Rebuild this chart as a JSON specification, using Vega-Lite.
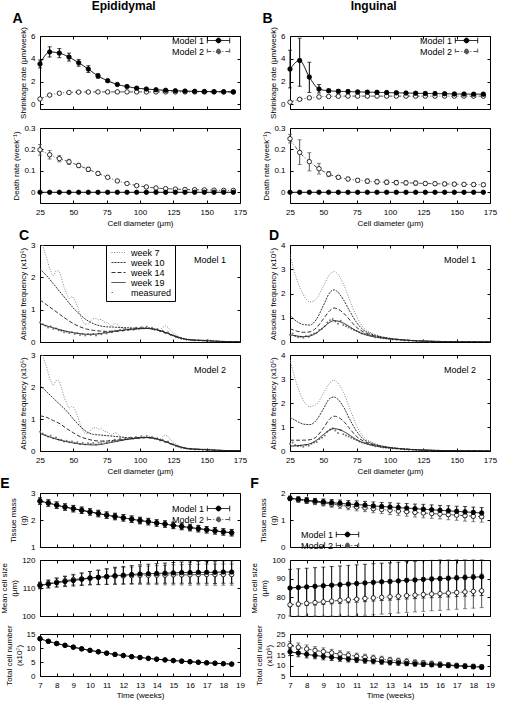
{
"$schema": "https://vega.github.io/schema/vega-lite/v6.json",
"background": "white",
"padding": {"left": 0, "top": 0, "right": 4, "bottom": 0},
"config": {
  "font": "Liberation Sans",
  "view": {"stroke": "black", "strokeWidth": 1},
  "axis": {"grid": false, "domain": false, "tickColor": "black", "tickSize": -3, "labelPadding": 8, "labelFontSize": 8, "titleFontSize": 8, "titleFontWeight": "normal", "labelColor": "black", "titleColor": "black", "labelFlush": false, "labelOverlap": false, "titlePadding": 3},
  "title": {"anchor": "start", "fontSize": 14, "fontWeight": "bold", "color": "black", "offset": 0},
  "legend": {"labelFontSize": 9, "labelColor": "black"}
},
"datasets": {
"As": [
{"m":"Model 2","x":25,"y":0.48,"l":0.38,"h":0.58},{"m":"Model 2","x":32.25,"y":0.82,"l":0.72,"h":0.92},{"m":"Model 2","x":39.5,"y":0.98,"l":0.9,"h":1.06},{"m":"Model 2","x":46.75,"y":1.05,"l":0.98,"h":1.12},{"m":"Model 2","x":54,"y":1.08,"l":1.01,"h":1.15},{"m":"Model 2","x":61.25,"y":1.09,"l":1.02,"h":1.16},{"m":"Model 2","x":68.5,"y":1.1,"l":1.03,"h":1.17},{"m":"Model 2","x":75.75,"y":1.1,"l":1.03,"h":1.17},{"m":"Model 2","x":83,"y":1.1,"l":1.03,"h":1.17},{"m":"Model 2","x":90.25,"y":1.1,"l":1.03,"h":1.17},{"m":"Model 2","x":97.5,"y":1.1,"l":1.03,"h":1.17},{"m":"Model 2","x":104.75,"y":1.1,"l":1.03,"h":1.17},{"m":"Model 2","x":112,"y":1.1,"l":1.03,"h":1.17},{"m":"Model 2","x":119.25,"y":1.1,"l":1.03,"h":1.17},{"m":"Model 2","x":126.5,"y":1.1,"l":1.03,"h":1.17},{"m":"Model 2","x":133.75,"y":1.1,"l":1.03,"h":1.17},{"m":"Model 2","x":141,"y":1.1,"l":1.03,"h":1.17},{"m":"Model 2","x":148.25,"y":1.1,"l":1.03,"h":1.17},{"m":"Model 2","x":155.5,"y":1.1,"l":1.03,"h":1.17},{"m":"Model 2","x":162.75,"y":1.1,"l":1.03,"h":1.17},{"m":"Model 2","x":170,"y":1.1,"l":1.03,"h":1.17},
{"m":"Model 1","x":25,"y":3.55,"l":3.2,"h":3.9},{"m":"Model 1","x":32.25,"y":4.6,"l":4.15,"h":5.05},{"m":"Model 1","x":39.5,"y":4.5,"l":4.1,"h":4.9},{"m":"Model 1","x":46.75,"y":4.15,"l":3.8,"h":4.5},{"m":"Model 1","x":54,"y":3.65,"l":3.35,"h":3.95},{"m":"Model 1","x":61.25,"y":3.1,"l":2.8,"h":3.4},{"m":"Model 1","x":68.5,"y":2.5,"l":2.3,"h":2.7},{"m":"Model 1","x":75.75,"y":2.08,"l":1.96,"h":2.2},{"m":"Model 1","x":83,"y":1.75,"l":1.67,"h":1.83},{"m":"Model 1","x":90.25,"y":1.57,"l":1.5,"h":1.64},{"m":"Model 1","x":97.5,"y":1.43,"l":1.36,"h":1.5},{"m":"Model 1","x":104.75,"y":1.35,"l":1.28,"h":1.42},{"m":"Model 1","x":112,"y":1.29,"l":1.22,"h":1.36},{"m":"Model 1","x":119.25,"y":1.24,"l":1.17,"h":1.31},{"m":"Model 1","x":126.5,"y":1.2,"l":1.13,"h":1.27},{"m":"Model 1","x":133.75,"y":1.17,"l":1.1,"h":1.24},{"m":"Model 1","x":141,"y":1.15,"l":1.08,"h":1.22},{"m":"Model 1","x":148.25,"y":1.13,"l":1.06,"h":1.2},{"m":"Model 1","x":155.5,"y":1.12,"l":1.05,"h":1.19},{"m":"Model 1","x":162.75,"y":1.11,"l":1.04,"h":1.18},{"m":"Model 1","x":170,"y":1.1,"l":1.03,"h":1.17}
],
"Ad": [
{"m":"Model 2","x":25,"y":0.198,"l":0.173,"h":0.223},{"m":"Model 2","x":32.25,"y":0.175,"l":0.155,"h":0.195},{"m":"Model 2","x":39.5,"y":0.157,"l":0.142,"h":0.172},{"m":"Model 2","x":46.75,"y":0.142,"l":0.13,"h":0.154},{"m":"Model 2","x":54,"y":0.125,"l":0.115,"h":0.135},{"m":"Model 2","x":61.25,"y":0.107,"l":0.097,"h":0.117},{"m":"Model 2","x":68.5,"y":0.088,"l":0.08,"h":0.096},{"m":"Model 2","x":75.75,"y":0.07,"l":0.065,"h":0.075},{"m":"Model 2","x":83,"y":0.053,"l":0.049,"h":0.057},{"m":"Model 2","x":90.25,"y":0.041,"l":0.037,"h":0.045},{"m":"Model 2","x":97.5,"y":0.031,"l":0.027,"h":0.035},{"m":"Model 2","x":104.75,"y":0.025,"l":0.022,"h":0.028},{"m":"Model 2","x":112,"y":0.02,"l":0.017,"h":0.023},{"m":"Model 2","x":119.25,"y":0.017,"l":0.014,"h":0.02},{"m":"Model 2","x":126.5,"y":0.015,"l":0.012,"h":0.018},{"m":"Model 2","x":133.75,"y":0.013,"l":0.01,"h":0.016},{"m":"Model 2","x":141,"y":0.012,"l":0.008,"h":0.016},{"m":"Model 2","x":148.25,"y":0.011,"l":0.007,"h":0.015},{"m":"Model 2","x":155.5,"y":0.01,"l":0.005,"h":0.015},{"m":"Model 2","x":162.75,"y":0.009,"l":0.004,"h":0.014},{"m":"Model 2","x":170,"y":0.009,"l":0.004,"h":0.014},
{"m":"Model 1","x":25,"y":0,"l":0,"h":0},{"m":"Model 1","x":32.25,"y":0,"l":0,"h":0},{"m":"Model 1","x":39.5,"y":0,"l":0,"h":0},{"m":"Model 1","x":46.75,"y":0,"l":0,"h":0},{"m":"Model 1","x":54,"y":0,"l":0,"h":0},{"m":"Model 1","x":61.25,"y":0,"l":0,"h":0},{"m":"Model 1","x":68.5,"y":0,"l":0,"h":0},{"m":"Model 1","x":75.75,"y":0,"l":0,"h":0},{"m":"Model 1","x":83,"y":0,"l":0,"h":0},{"m":"Model 1","x":90.25,"y":0,"l":0,"h":0},{"m":"Model 1","x":97.5,"y":0,"l":0,"h":0},{"m":"Model 1","x":104.75,"y":0,"l":0,"h":0},{"m":"Model 1","x":112,"y":0,"l":0,"h":0},{"m":"Model 1","x":119.25,"y":0,"l":0,"h":0},{"m":"Model 1","x":126.5,"y":0,"l":0,"h":0},{"m":"Model 1","x":133.75,"y":0,"l":0,"h":0},{"m":"Model 1","x":141,"y":0,"l":0,"h":0},{"m":"Model 1","x":148.25,"y":0,"l":0,"h":0},{"m":"Model 1","x":155.5,"y":0,"l":0,"h":0},{"m":"Model 1","x":162.75,"y":0,"l":0,"h":0},{"m":"Model 1","x":170,"y":0,"l":0,"h":0}
],
"Bs": [
{"m":"Model 2","x":25,"y":0.2,"l":0.12,"h":0.28},{"m":"Model 2","x":32.25,"y":0.45,"l":0.37,"h":0.53},{"m":"Model 2","x":39.5,"y":0.58,"l":0.5,"h":0.66},{"m":"Model 2","x":46.75,"y":0.66,"l":0.58,"h":0.74},{"m":"Model 2","x":54,"y":0.7,"l":0.62,"h":0.78},{"m":"Model 2","x":61.25,"y":0.72,"l":0.64,"h":0.8},{"m":"Model 2","x":68.5,"y":0.73,"l":0.65,"h":0.81},{"m":"Model 2","x":75.75,"y":0.73,"l":0.65,"h":0.81},{"m":"Model 2","x":83,"y":0.73,"l":0.65,"h":0.81},{"m":"Model 2","x":90.25,"y":0.73,"l":0.65,"h":0.81},{"m":"Model 2","x":97.5,"y":0.73,"l":0.65,"h":0.81},{"m":"Model 2","x":104.75,"y":0.73,"l":0.65,"h":0.81},{"m":"Model 2","x":112,"y":0.73,"l":0.65,"h":0.81},{"m":"Model 2","x":119.25,"y":0.73,"l":0.65,"h":0.81},{"m":"Model 2","x":126.5,"y":0.73,"l":0.65,"h":0.81},{"m":"Model 2","x":133.75,"y":0.73,"l":0.65,"h":0.81},{"m":"Model 2","x":141,"y":0.73,"l":0.65,"h":0.81},{"m":"Model 2","x":148.25,"y":0.73,"l":0.65,"h":0.81},{"m":"Model 2","x":155.5,"y":0.73,"l":0.65,"h":0.81},{"m":"Model 2","x":162.75,"y":0.73,"l":0.65,"h":0.81},{"m":"Model 2","x":170,"y":0.73,"l":0.65,"h":0.81},
{"m":"Model 1","x":25,"y":3.1,"l":1.45,"h":4.75},{"m":"Model 1","x":32.25,"y":3.85,"l":1.6,"h":5.8},{"m":"Model 1","x":39.5,"y":2.4,"l":1.05,"h":3.7},{"m":"Model 1","x":46.75,"y":1.35,"l":1.0,"h":1.75},{"m":"Model 1","x":54,"y":1.2,"l":1.05,"h":1.35},{"m":"Model 1","x":61.25,"y":1.15,"l":1.0,"h":1.3},{"m":"Model 1","x":68.5,"y":1.13,"l":1.0,"h":1.26},{"m":"Model 1","x":75.75,"y":1.1,"l":0.98,"h":1.22},{"m":"Model 1","x":83,"y":1.08,"l":0.96,"h":1.2},{"m":"Model 1","x":90.25,"y":1.06,"l":0.94,"h":1.18},{"m":"Model 1","x":97.5,"y":1.04,"l":0.92,"h":1.16},{"m":"Model 1","x":104.75,"y":1.02,"l":0.9,"h":1.14},{"m":"Model 1","x":112,"y":1.0,"l":0.88,"h":1.12},{"m":"Model 1","x":119.25,"y":0.98,"l":0.86,"h":1.1},{"m":"Model 1","x":126.5,"y":0.96,"l":0.84,"h":1.08},{"m":"Model 1","x":133.75,"y":0.95,"l":0.83,"h":1.07},{"m":"Model 1","x":141,"y":0.94,"l":0.82,"h":1.06},{"m":"Model 1","x":148.25,"y":0.92,"l":0.8,"h":1.04},{"m":"Model 1","x":155.5,"y":0.91,"l":0.79,"h":1.03},{"m":"Model 1","x":162.75,"y":0.9,"l":0.78,"h":1.02},{"m":"Model 1","x":170,"y":0.9,"l":0.78,"h":1.02}
],
"Bd": [
{"m":"Model 2","x":25,"y":0.25,"l":0.23,"h":0.27},{"m":"Model 2","x":32.25,"y":0.186,"l":0.13,"h":0.245},{"m":"Model 2","x":39.5,"y":0.143,"l":0.1,"h":0.185},{"m":"Model 2","x":46.75,"y":0.11,"l":0.085,"h":0.135},{"m":"Model 2","x":54,"y":0.085,"l":0.073,"h":0.097},{"m":"Model 2","x":61.25,"y":0.07,"l":0.062,"h":0.078},{"m":"Model 2","x":68.5,"y":0.062,"l":0.054,"h":0.07},{"m":"Model 2","x":75.75,"y":0.056,"l":0.048,"h":0.064},{"m":"Model 2","x":83,"y":0.052,"l":0.042,"h":0.062},{"m":"Model 2","x":90.25,"y":0.049,"l":0.039,"h":0.059},{"m":"Model 2","x":97.5,"y":0.047,"l":0.037,"h":0.057},{"m":"Model 2","x":104.75,"y":0.045,"l":0.035,"h":0.055},{"m":"Model 2","x":112,"y":0.044,"l":0.034,"h":0.054},{"m":"Model 2","x":119.25,"y":0.043,"l":0.033,"h":0.053},{"m":"Model 2","x":126.5,"y":0.041,"l":0.033,"h":0.049},{"m":"Model 2","x":133.75,"y":0.04,"l":0.032,"h":0.048},{"m":"Model 2","x":141,"y":0.039,"l":0.031,"h":0.047},{"m":"Model 2","x":148.25,"y":0.038,"l":0.03,"h":0.046},{"m":"Model 2","x":155.5,"y":0.037,"l":0.029,"h":0.045},{"m":"Model 2","x":162.75,"y":0.036,"l":0.028,"h":0.044},{"m":"Model 2","x":170,"y":0.035,"l":0.027,"h":0.043},
{"m":"Model 1","x":25,"y":0,"l":0,"h":0},{"m":"Model 1","x":32.25,"y":0,"l":0,"h":0},{"m":"Model 1","x":39.5,"y":0,"l":0,"h":0},{"m":"Model 1","x":46.75,"y":0,"l":0,"h":0},{"m":"Model 1","x":54,"y":0,"l":0,"h":0},{"m":"Model 1","x":61.25,"y":0,"l":0,"h":0},{"m":"Model 1","x":68.5,"y":0,"l":0,"h":0},{"m":"Model 1","x":75.75,"y":0,"l":0,"h":0},{"m":"Model 1","x":83,"y":0,"l":0,"h":0},{"m":"Model 1","x":90.25,"y":0,"l":0,"h":0},{"m":"Model 1","x":97.5,"y":0,"l":0,"h":0},{"m":"Model 1","x":104.75,"y":0,"l":0,"h":0},{"m":"Model 1","x":112,"y":0,"l":0,"h":0},{"m":"Model 1","x":119.25,"y":0,"l":0,"h":0},{"m":"Model 1","x":126.5,"y":0,"l":0,"h":0},{"m":"Model 1","x":133.75,"y":0,"l":0,"h":0},{"m":"Model 1","x":141,"y":0,"l":0,"h":0},{"m":"Model 1","x":148.25,"y":0,"l":0,"h":0},{"m":"Model 1","x":155.5,"y":0,"l":0,"h":0},{"m":"Model 1","x":162.75,"y":0,"l":0,"h":0},{"m":"Model 1","x":170,"y":0,"l":0,"h":0}
],
"C1": [
{"s":"week 7","x":25,"y":3.3},{"s":"week 7","x":27,"y":3.0},{"s":"week 7","x":30,"y":2.6},{"s":"week 7","x":33,"y":2.2},{"s":"week 7","x":35,"y":2.05},{"s":"week 7","x":37,"y":2.2},{"s":"week 7","x":39,"y":2.2},{"s":"week 7","x":41,"y":2.0},{"s":"week 7","x":43,"y":1.7},{"s":"week 7","x":45,"y":1.5},{"s":"week 7","x":47,"y":1.35},{"s":"week 7","x":49,"y":1.4},{"s":"week 7","x":51,"y":1.3},{"s":"week 7","x":53,"y":1.1},{"s":"week 7","x":55,"y":0.85},{"s":"week 7","x":57,"y":0.65},{"s":"week 7","x":59,"y":0.55},{"s":"week 7","x":61,"y":0.55},{"s":"week 7","x":63,"y":0.65},{"s":"week 7","x":65,"y":0.72},{"s":"week 7","x":67,"y":0.73},{"s":"week 7","x":69,"y":0.68},{"s":"week 7","x":71,"y":0.7},{"s":"week 7","x":73,"y":0.62},{"s":"week 7","x":75,"y":0.6},{"s":"week 7","x":77,"y":0.55},{"s":"week 7","x":79,"y":0.5},{"s":"week 7","x":81,"y":0.57},{"s":"week 7","x":83,"y":0.55},{"s":"week 7","x":85,"y":0.47},{"s":"week 7","x":87,"y":0.42},{"s":"week 7","x":90,"y":0.4},{"s":"week 7","x":93,"y":0.38},{"s":"week 7","x":96,"y":0.4},{"s":"week 7","x":99,"y":0.42},{"s":"week 7","x":102,"y":0.46},{"s":"week 7","x":105,"y":0.42},{"s":"week 7","x":108,"y":0.4},{"s":"week 7","x":111,"y":0.42},{"s":"week 7","x":114,"y":0.35},{"s":"week 7","x":117,"y":0.45},{"s":"week 7","x":119,"y":0.5},{"s":"week 7","x":121,"y":0.45},{"s":"week 7","x":123,"y":0.35},{"s":"week 7","x":126,"y":0.25},{"s":"week 7","x":130,"y":0.15},{"s":"week 7","x":135,"y":0.1},{"s":"week 7","x":140,"y":0.07},{"s":"week 7","x":145,"y":0.06},{"s":"week 7","x":150,"y":0.07},{"s":"week 7","x":155,"y":0.04},{"s":"week 7","x":160,"y":0.02},{"s":"week 7","x":165,"y":0.01},{"s":"week 7","x":175,"y":0.01},
{"s":"week 10","x":25,"y":2.25},{"s":"week 10","x":30,"y":2.05},{"s":"week 10","x":35,"y":1.8},{"s":"week 10","x":40,"y":1.55},{"s":"week 10","x":45,"y":1.3},{"s":"week 10","x":50,"y":1.05},{"s":"week 10","x":55,"y":0.85},{"s":"week 10","x":60,"y":0.68},{"s":"week 10","x":65,"y":0.57},{"s":"week 10","x":70,"y":0.5},{"s":"week 10","x":75,"y":0.47},{"s":"week 10","x":80,"y":0.46},{"s":"week 10","x":85,"y":0.45},{"s":"week 10","x":90,"y":0.44},{"s":"week 10","x":95,"y":0.43},{"s":"week 10","x":100,"y":0.43},{"s":"week 10","x":105,"y":0.43},{"s":"week 10","x":110,"y":0.4},{"s":"week 10","x":115,"y":0.35},{"s":"week 10","x":120,"y":0.28},{"s":"week 10","x":125,"y":0.2},{"s":"week 10","x":130,"y":0.13},{"s":"week 10","x":135,"y":0.08},{"s":"week 10","x":140,"y":0.06},{"s":"week 10","x":145,"y":0.05},{"s":"week 10","x":150,"y":0.04},{"s":"week 10","x":160,"y":0.02},{"s":"week 10","x":175,"y":0.01},
{"s":"week 14","x":25,"y":1.3},{"s":"week 14","x":30,"y":1.15},{"s":"week 14","x":35,"y":1.0},{"s":"week 14","x":40,"y":0.85},{"s":"week 14","x":45,"y":0.7},{"s":"week 14","x":50,"y":0.57},{"s":"week 14","x":55,"y":0.47},{"s":"week 14","x":60,"y":0.4},{"s":"week 14","x":65,"y":0.36},{"s":"week 14","x":70,"y":0.34},{"s":"week 14","x":75,"y":0.33},{"s":"week 14","x":80,"y":0.34},{"s":"week 14","x":85,"y":0.35},{"s":"week 14","x":90,"y":0.37},{"s":"week 14","x":95,"y":0.39},{"s":"week 14","x":100,"y":0.41},{"s":"week 14","x":105,"y":0.42},{"s":"week 14","x":110,"y":0.4},{"s":"week 14","x":115,"y":0.35},{"s":"week 14","x":120,"y":0.28},{"s":"week 14","x":125,"y":0.2},{"s":"week 14","x":130,"y":0.13},{"s":"week 14","x":135,"y":0.08},{"s":"week 14","x":140,"y":0.06},{"s":"week 14","x":145,"y":0.05},{"s":"week 14","x":150,"y":0.04},{"s":"week 14","x":160,"y":0.02},{"s":"week 14","x":175,"y":0.01},
{"s":"week 19","x":25,"y":0.57},{"s":"week 19","x":30,"y":0.5},{"s":"week 19","x":35,"y":0.44},{"s":"week 19","x":40,"y":0.38},{"s":"week 19","x":45,"y":0.33},{"s":"week 19","x":50,"y":0.29},{"s":"week 19","x":55,"y":0.26},{"s":"week 19","x":60,"y":0.24},{"s":"week 19","x":65,"y":0.24},{"s":"week 19","x":70,"y":0.26},{"s":"week 19","x":75,"y":0.29},{"s":"week 19","x":80,"y":0.32},{"s":"week 19","x":85,"y":0.35},{"s":"week 19","x":90,"y":0.38},{"s":"week 19","x":95,"y":0.4},{"s":"week 19","x":100,"y":0.42},{"s":"week 19","x":105,"y":0.42},{"s":"week 19","x":110,"y":0.4},{"s":"week 19","x":115,"y":0.35},{"s":"week 19","x":120,"y":0.28},{"s":"week 19","x":125,"y":0.2},{"s":"week 19","x":130,"y":0.13},{"s":"week 19","x":135,"y":0.08},{"s":"week 19","x":140,"y":0.06},{"s":"week 19","x":145,"y":0.05},{"s":"week 19","x":150,"y":0.04},{"s":"week 19","x":160,"y":0.02},{"s":"week 19","x":175,"y":0.01}
],
"C2": [
{"s":"week 7","x":25,"y":3.3},{"s":"week 7","x":27,"y":3.0},{"s":"week 7","x":30,"y":2.6},{"s":"week 7","x":33,"y":2.2},{"s":"week 7","x":35,"y":2.05},{"s":"week 7","x":37,"y":2.2},{"s":"week 7","x":39,"y":2.2},{"s":"week 7","x":41,"y":2.0},{"s":"week 7","x":43,"y":1.7},{"s":"week 7","x":45,"y":1.5},{"s":"week 7","x":47,"y":1.35},{"s":"week 7","x":49,"y":1.4},{"s":"week 7","x":51,"y":1.3},{"s":"week 7","x":53,"y":1.1},{"s":"week 7","x":55,"y":0.85},{"s":"week 7","x":57,"y":0.65},{"s":"week 7","x":59,"y":0.55},{"s":"week 7","x":61,"y":0.55},{"s":"week 7","x":63,"y":0.65},{"s":"week 7","x":65,"y":0.72},{"s":"week 7","x":67,"y":0.73},{"s":"week 7","x":69,"y":0.68},{"s":"week 7","x":71,"y":0.7},{"s":"week 7","x":73,"y":0.62},{"s":"week 7","x":75,"y":0.6},{"s":"week 7","x":77,"y":0.55},{"s":"week 7","x":79,"y":0.5},{"s":"week 7","x":81,"y":0.57},{"s":"week 7","x":83,"y":0.55},{"s":"week 7","x":85,"y":0.47},{"s":"week 7","x":87,"y":0.42},{"s":"week 7","x":90,"y":0.4},{"s":"week 7","x":93,"y":0.38},{"s":"week 7","x":96,"y":0.4},{"s":"week 7","x":99,"y":0.42},{"s":"week 7","x":102,"y":0.46},{"s":"week 7","x":105,"y":0.42},{"s":"week 7","x":108,"y":0.4},{"s":"week 7","x":111,"y":0.42},{"s":"week 7","x":114,"y":0.35},{"s":"week 7","x":117,"y":0.45},{"s":"week 7","x":119,"y":0.5},{"s":"week 7","x":121,"y":0.45},{"s":"week 7","x":123,"y":0.35},{"s":"week 7","x":126,"y":0.25},{"s":"week 7","x":130,"y":0.15},{"s":"week 7","x":135,"y":0.1},{"s":"week 7","x":140,"y":0.07},{"s":"week 7","x":145,"y":0.06},{"s":"week 7","x":150,"y":0.07},{"s":"week 7","x":155,"y":0.04},{"s":"week 7","x":160,"y":0.02},{"s":"week 7","x":165,"y":0.01},{"s":"week 7","x":175,"y":0.01},
{"s":"week 10","x":25,"y":2.05},{"s":"week 10","x":30,"y":1.85},{"s":"week 10","x":35,"y":1.65},{"s":"week 10","x":40,"y":1.45},{"s":"week 10","x":45,"y":1.25},{"s":"week 10","x":50,"y":1.0},{"s":"week 10","x":55,"y":0.78},{"s":"week 10","x":60,"y":0.6},{"s":"week 10","x":65,"y":0.52},{"s":"week 10","x":70,"y":0.5},{"s":"week 10","x":75,"y":0.48},{"s":"week 10","x":80,"y":0.46},{"s":"week 10","x":85,"y":0.44},{"s":"week 10","x":90,"y":0.42},{"s":"week 10","x":95,"y":0.41},{"s":"week 10","x":100,"y":0.42},{"s":"week 10","x":105,"y":0.42},{"s":"week 10","x":110,"y":0.4},{"s":"week 10","x":115,"y":0.35},{"s":"week 10","x":120,"y":0.28},{"s":"week 10","x":125,"y":0.2},{"s":"week 10","x":130,"y":0.13},{"s":"week 10","x":135,"y":0.08},{"s":"week 10","x":140,"y":0.06},{"s":"week 10","x":145,"y":0.05},{"s":"week 10","x":150,"y":0.04},{"s":"week 10","x":160,"y":0.02},{"s":"week 10","x":175,"y":0.01},
{"s":"week 14","x":25,"y":1.1},{"s":"week 14","x":30,"y":1.05},{"s":"week 14","x":35,"y":0.95},{"s":"week 14","x":40,"y":0.85},{"s":"week 14","x":45,"y":0.7},{"s":"week 14","x":50,"y":0.57},{"s":"week 14","x":55,"y":0.45},{"s":"week 14","x":60,"y":0.38},{"s":"week 14","x":65,"y":0.33},{"s":"week 14","x":70,"y":0.31},{"s":"week 14","x":75,"y":0.31},{"s":"week 14","x":80,"y":0.33},{"s":"week 14","x":85,"y":0.35},{"s":"week 14","x":90,"y":0.37},{"s":"week 14","x":95,"y":0.39},{"s":"week 14","x":100,"y":0.41},{"s":"week 14","x":105,"y":0.42},{"s":"week 14","x":110,"y":0.4},{"s":"week 14","x":115,"y":0.35},{"s":"week 14","x":120,"y":0.28},{"s":"week 14","x":125,"y":0.2},{"s":"week 14","x":130,"y":0.13},{"s":"week 14","x":135,"y":0.08},{"s":"week 14","x":140,"y":0.06},{"s":"week 14","x":145,"y":0.05},{"s":"week 14","x":150,"y":0.04},{"s":"week 14","x":160,"y":0.02},{"s":"week 14","x":175,"y":0.01},
{"s":"week 19","x":25,"y":0.55},{"s":"week 19","x":30,"y":0.47},{"s":"week 19","x":35,"y":0.4},{"s":"week 19","x":40,"y":0.34},{"s":"week 19","x":45,"y":0.29},{"s":"week 19","x":50,"y":0.25},{"s":"week 19","x":55,"y":0.22},{"s":"week 19","x":60,"y":0.2},{"s":"week 19","x":65,"y":0.19},{"s":"week 19","x":70,"y":0.2},{"s":"week 19","x":75,"y":0.24},{"s":"week 19","x":80,"y":0.28},{"s":"week 19","x":85,"y":0.32},{"s":"week 19","x":90,"y":0.36},{"s":"week 19","x":95,"y":0.39},{"s":"week 19","x":100,"y":0.41},{"s":"week 19","x":105,"y":0.42},{"s":"week 19","x":110,"y":0.4},{"s":"week 19","x":115,"y":0.35},{"s":"week 19","x":120,"y":0.28},{"s":"week 19","x":125,"y":0.2},{"s":"week 19","x":130,"y":0.13},{"s":"week 19","x":135,"y":0.08},{"s":"week 19","x":140,"y":0.06},{"s":"week 19","x":145,"y":0.05},{"s":"week 19","x":150,"y":0.04},{"s":"week 19","x":160,"y":0.02},{"s":"week 19","x":175,"y":0.01}
],
"D1": [
{"s":"week 7","x":25,"y":3.6},{"s":"week 7","x":30,"y":2.6},{"s":"week 7","x":35,"y":1.95},{"s":"week 7","x":40,"y":1.65},{"s":"week 7","x":45,"y":1.8},{"s":"week 7","x":50,"y":2.3},{"s":"week 7","x":55,"y":2.8},{"s":"week 7","x":58,"y":2.9},{"s":"week 7","x":60,"y":2.85},{"s":"week 7","x":65,"y":2.4},{"s":"week 7","x":70,"y":1.7},{"s":"week 7","x":75,"y":1.05},{"s":"week 7","x":80,"y":0.6},{"s":"week 7","x":85,"y":0.4},{"s":"week 7","x":90,"y":0.28},{"s":"week 7","x":100,"y":0.15},{"s":"week 7","x":110,"y":0.09},{"s":"week 7","x":120,"y":0.05},{"s":"week 7","x":130,"y":0.03},{"s":"week 7","x":140,"y":0.02},{"s":"week 7","x":150,"y":0.015},{"s":"week 7","x":175,"y":0.005},
{"s":"week 10","x":25,"y":1.1},{"s":"week 10","x":30,"y":0.85},{"s":"week 10","x":35,"y":0.72},{"s":"week 10","x":40,"y":0.7},{"s":"week 10","x":45,"y":0.95},{"s":"week 10","x":50,"y":1.5},{"s":"week 10","x":55,"y":2.05},{"s":"week 10","x":58,"y":2.15},{"s":"week 10","x":60,"y":2.1},{"s":"week 10","x":65,"y":1.75},{"s":"week 10","x":70,"y":1.25},{"s":"week 10","x":75,"y":0.8},{"s":"week 10","x":80,"y":0.5},{"s":"week 10","x":85,"y":0.35},{"s":"week 10","x":90,"y":0.26},{"s":"week 10","x":100,"y":0.15},{"s":"week 10","x":110,"y":0.09},{"s":"week 10","x":120,"y":0.05},{"s":"week 10","x":130,"y":0.03},{"s":"week 10","x":140,"y":0.02},{"s":"week 10","x":150,"y":0.015},{"s":"week 10","x":175,"y":0.005},
{"s":"week 14","x":25,"y":0.55},{"s":"week 14","x":30,"y":0.45},{"s":"week 14","x":35,"y":0.4},{"s":"week 14","x":40,"y":0.42},{"s":"week 14","x":45,"y":0.6},{"s":"week 14","x":50,"y":0.95},{"s":"week 14","x":55,"y":1.3},{"s":"week 14","x":58,"y":1.4},{"s":"week 14","x":60,"y":1.38},{"s":"week 14","x":65,"y":1.2},{"s":"week 14","x":70,"y":0.9},{"s":"week 14","x":75,"y":0.6},{"s":"week 14","x":80,"y":0.42},{"s":"week 14","x":85,"y":0.3},{"s":"week 14","x":90,"y":0.23},{"s":"week 14","x":100,"y":0.14},{"s":"week 14","x":110,"y":0.09},{"s":"week 14","x":120,"y":0.05},{"s":"week 14","x":130,"y":0.03},{"s":"week 14","x":140,"y":0.02},{"s":"week 14","x":150,"y":0.015},{"s":"week 14","x":175,"y":0.005},
{"s":"week 19","x":25,"y":0.3},{"s":"week 19","x":30,"y":0.25},{"s":"week 19","x":35,"y":0.22},{"s":"week 19","x":40,"y":0.25},{"s":"week 19","x":45,"y":0.38},{"s":"week 19","x":50,"y":0.6},{"s":"week 19","x":55,"y":0.82},{"s":"week 19","x":58,"y":0.88},{"s":"week 19","x":60,"y":0.87},{"s":"week 19","x":65,"y":0.78},{"s":"week 19","x":70,"y":0.62},{"s":"week 19","x":75,"y":0.45},{"s":"week 19","x":80,"y":0.33},{"s":"week 19","x":85,"y":0.25},{"s":"week 19","x":90,"y":0.2},{"s":"week 19","x":100,"y":0.13},{"s":"week 19","x":110,"y":0.08},{"s":"week 19","x":120,"y":0.05},{"s":"week 19","x":130,"y":0.03},{"s":"week 19","x":140,"y":0.02},{"s":"week 19","x":150,"y":0.015},{"s":"week 19","x":175,"y":0.005}
],
"D2": [
{"s":"week 7","x":25,"y":3.8},{"s":"week 7","x":30,"y":2.8},{"s":"week 7","x":35,"y":2.1},{"s":"week 7","x":40,"y":1.85},{"s":"week 7","x":45,"y":1.95},{"s":"week 7","x":50,"y":2.4},{"s":"week 7","x":55,"y":2.85},{"s":"week 7","x":58,"y":2.95},{"s":"week 7","x":60,"y":2.9},{"s":"week 7","x":65,"y":2.45},{"s":"week 7","x":70,"y":1.75},{"s":"week 7","x":75,"y":1.05},{"s":"week 7","x":80,"y":0.6},{"s":"week 7","x":85,"y":0.4},{"s":"week 7","x":90,"y":0.28},{"s":"week 7","x":100,"y":0.15},{"s":"week 7","x":110,"y":0.09},{"s":"week 7","x":120,"y":0.05},{"s":"week 7","x":130,"y":0.03},{"s":"week 7","x":140,"y":0.02},{"s":"week 7","x":150,"y":0.015},{"s":"week 7","x":175,"y":0.005},
{"s":"week 10","x":25,"y":1.4},{"s":"week 10","x":30,"y":1.25},{"s":"week 10","x":35,"y":1.12},{"s":"week 10","x":40,"y":1.1},{"s":"week 10","x":45,"y":1.3},{"s":"week 10","x":50,"y":1.75},{"s":"week 10","x":55,"y":2.2},{"s":"week 10","x":58,"y":2.25},{"s":"week 10","x":60,"y":2.2},{"s":"week 10","x":65,"y":1.85},{"s":"week 10","x":70,"y":1.3},{"s":"week 10","x":75,"y":0.82},{"s":"week 10","x":80,"y":0.5},{"s":"week 10","x":85,"y":0.35},{"s":"week 10","x":90,"y":0.26},{"s":"week 10","x":100,"y":0.15},{"s":"week 10","x":110,"y":0.09},{"s":"week 10","x":120,"y":0.05},{"s":"week 10","x":130,"y":0.03},{"s":"week 10","x":140,"y":0.02},{"s":"week 10","x":150,"y":0.015},{"s":"week 10","x":175,"y":0.005},
{"s":"week 14","x":25,"y":0.45},{"s":"week 14","x":30,"y":0.45},{"s":"week 14","x":35,"y":0.45},{"s":"week 14","x":40,"y":0.47},{"s":"week 14","x":45,"y":0.6},{"s":"week 14","x":50,"y":0.95},{"s":"week 14","x":55,"y":1.35},{"s":"week 14","x":58,"y":1.45},{"s":"week 14","x":60,"y":1.43},{"s":"week 14","x":65,"y":1.25},{"s":"week 14","x":70,"y":0.92},{"s":"week 14","x":75,"y":0.6},{"s":"week 14","x":80,"y":0.42},{"s":"week 14","x":85,"y":0.3},{"s":"week 14","x":90,"y":0.23},{"s":"week 14","x":100,"y":0.14},{"s":"week 14","x":110,"y":0.09},{"s":"week 14","x":120,"y":0.05},{"s":"week 14","x":130,"y":0.03},{"s":"week 14","x":140,"y":0.02},{"s":"week 14","x":150,"y":0.015},{"s":"week 14","x":175,"y":0.005},
{"s":"week 19","x":25,"y":0.2},{"s":"week 19","x":30,"y":0.22},{"s":"week 19","x":35,"y":0.25},{"s":"week 19","x":40,"y":0.3},{"s":"week 19","x":45,"y":0.45},{"s":"week 19","x":50,"y":0.68},{"s":"week 19","x":55,"y":0.88},{"s":"week 19","x":58,"y":0.93},{"s":"week 19","x":60,"y":0.92},{"s":"week 19","x":65,"y":0.82},{"s":"week 19","x":70,"y":0.65},{"s":"week 19","x":75,"y":0.47},{"s":"week 19","x":80,"y":0.34},{"s":"week 19","x":85,"y":0.26},{"s":"week 19","x":90,"y":0.2},{"s":"week 19","x":100,"y":0.13},{"s":"week 19","x":110,"y":0.08},{"s":"week 19","x":120,"y":0.05},{"s":"week 19","x":130,"y":0.03},{"s":"week 19","x":140,"y":0.02},{"s":"week 19","x":150,"y":0.015},{"s":"week 19","x":175,"y":0.005}
],
"MC": [
{"x":25,"y":0.6},{"x":27,"y":0.55},{"x":29,"y":0.5},{"x":31,"y":0.45},{"x":33,"y":0.48},{"x":35,"y":0.4},{"x":37,"y":0.42},{"x":39,"y":0.36},{"x":41,"y":0.35},{"x":43,"y":0.3},{"x":45,"y":0.32},{"x":47,"y":0.28},{"x":49,"y":0.3},{"x":51,"y":0.25},{"x":53,"y":0.27},{"x":55,"y":0.22},{"x":57,"y":0.25},{"x":59,"y":0.2},{"x":61,"y":0.24},{"x":63,"y":0.22},{"x":65,"y":0.25},{"x":67,"y":0.2},{"x":69,"y":0.26},{"x":71,"y":0.24},{"x":73,"y":0.3},{"x":75,"y":0.26},{"x":77,"y":0.32},{"x":79,"y":0.3},{"x":81,"y":0.35},{"x":83,"y":0.33},{"x":85,"y":0.38},{"x":87,"y":0.35},{"x":89,"y":0.4},{"x":91,"y":0.37},{"x":93,"y":0.42},{"x":95,"y":0.38},{"x":97,"y":0.44},{"x":99,"y":0.4},{"x":101,"y":0.46},{"x":103,"y":0.42},{"x":105,"y":0.47},{"x":107,"y":0.43},{"x":109,"y":0.44},{"x":111,"y":0.38},{"x":113,"y":0.4},{"x":115,"y":0.33},{"x":117,"y":0.35},{"x":119,"y":0.27},{"x":121,"y":0.3},{"x":123,"y":0.22},{"x":125,"y":0.2},{"x":127,"y":0.15},{"x":129,"y":0.13},{"x":131,"y":0.1},{"x":133,"y":0.09},{"x":135,"y":0.07},{"x":138,"y":0.06},{"x":141,"y":0.05},{"x":144,"y":0.05},{"x":147,"y":0.04},{"x":150,"y":0.03}
],
"MD": [
{"x":25,"y":0.3},{"x":27,"y":0.35},{"x":29,"y":0.25},{"x":31,"y":0.2},{"x":33,"y":0.22},{"x":35,"y":0.18},{"x":37,"y":0.25},{"x":39,"y":0.22},{"x":41,"y":0.3},{"x":43,"y":0.35},{"x":45,"y":0.38},{"x":47,"y":0.5},{"x":49,"y":0.55},{"x":51,"y":0.65},{"x":53,"y":0.8},{"x":55,"y":0.9},{"x":57,"y":0.95},{"x":59,"y":0.85},{"x":61,"y":0.75},{"x":63,"y":0.88},{"x":65,"y":0.7},{"x":67,"y":0.65},{"x":69,"y":0.6},{"x":71,"y":0.55},{"x":73,"y":0.5},{"x":75,"y":0.45},{"x":77,"y":0.4},{"x":79,"y":0.35},{"x":81,"y":0.33},{"x":83,"y":0.3},{"x":85,"y":0.27},{"x":87,"y":0.24},{"x":89,"y":0.2},{"x":91,"y":0.2},{"x":93,"y":0.17},{"x":95,"y":0.15},{"x":97,"y":0.14},{"x":99,"y":0.12},{"x":102,"y":0.1},{"x":105,"y":0.09},{"x":108,"y":0.08},{"x":111,"y":0.06},{"x":114,"y":0.05},{"x":117,"y":0.05},{"x":120,"y":0.04},{"x":125,"y":0.03},{"x":130,"y":0.02}
],
"Em": [
{"m":"Model 2","x":7,"y":2.7,"l":2.58,"h":2.82},{"m":"Model 2","x":7.5,"y":2.63,"l":2.51,"h":2.75},{"m":"Model 2","x":8,"y":2.55,"l":2.43,"h":2.67},{"m":"Model 2","x":8.5,"y":2.48,"l":2.36,"h":2.6},{"m":"Model 2","x":9,"y":2.42,"l":2.3,"h":2.54},{"m":"Model 2","x":9.5,"y":2.36,"l":2.24,"h":2.48},{"m":"Model 2","x":10,"y":2.3,"l":2.18,"h":2.42},{"m":"Model 2","x":10.5,"y":2.24,"l":2.12,"h":2.36},{"m":"Model 2","x":11,"y":2.18,"l":2.06,"h":2.3},{"m":"Model 2","x":11.5,"y":2.13,"l":2.01,"h":2.25},{"m":"Model 2","x":12,"y":2.08,"l":1.96,"h":2.2},{"m":"Model 2","x":12.5,"y":2.03,"l":1.91,"h":2.15},{"m":"Model 2","x":13,"y":1.98,"l":1.86,"h":2.1},{"m":"Model 2","x":13.5,"y":1.94,"l":1.82,"h":2.06},{"m":"Model 2","x":14,"y":1.89,"l":1.77,"h":2.01},{"m":"Model 2","x":14.5,"y":1.85,"l":1.73,"h":1.97},{"m":"Model 2","x":15,"y":1.8,"l":1.68,"h":1.92},{"m":"Model 2","x":15.5,"y":1.76,"l":1.64,"h":1.88},{"m":"Model 2","x":16,"y":1.72,"l":1.6,"h":1.84},{"m":"Model 2","x":16.5,"y":1.68,"l":1.56,"h":1.8},{"m":"Model 2","x":17,"y":1.64,"l":1.52,"h":1.76},{"m":"Model 2","x":17.5,"y":1.6,"l":1.48,"h":1.72},{"m":"Model 2","x":18,"y":1.56,"l":1.44,"h":1.68},{"m":"Model 2","x":18.5,"y":1.53,"l":1.41,"h":1.65},
{"m":"Model 1","x":7,"y":2.7,"l":2.58,"h":2.82},{"m":"Model 1","x":7.5,"y":2.63,"l":2.51,"h":2.75},{"m":"Model 1","x":8,"y":2.55,"l":2.43,"h":2.67},{"m":"Model 1","x":8.5,"y":2.48,"l":2.36,"h":2.6},{"m":"Model 1","x":9,"y":2.42,"l":2.3,"h":2.54},{"m":"Model 1","x":9.5,"y":2.36,"l":2.24,"h":2.48},{"m":"Model 1","x":10,"y":2.3,"l":2.18,"h":2.42},{"m":"Model 1","x":10.5,"y":2.24,"l":2.12,"h":2.36},{"m":"Model 1","x":11,"y":2.18,"l":2.06,"h":2.3},{"m":"Model 1","x":11.5,"y":2.13,"l":2.01,"h":2.25},{"m":"Model 1","x":12,"y":2.08,"l":1.96,"h":2.2},{"m":"Model 1","x":12.5,"y":2.03,"l":1.91,"h":2.15},{"m":"Model 1","x":13,"y":1.98,"l":1.86,"h":2.1},{"m":"Model 1","x":13.5,"y":1.94,"l":1.82,"h":2.06},{"m":"Model 1","x":14,"y":1.89,"l":1.77,"h":2.01},{"m":"Model 1","x":14.5,"y":1.85,"l":1.73,"h":1.97},{"m":"Model 1","x":15,"y":1.8,"l":1.68,"h":1.92},{"m":"Model 1","x":15.5,"y":1.76,"l":1.64,"h":1.88},{"m":"Model 1","x":16,"y":1.72,"l":1.6,"h":1.84},{"m":"Model 1","x":16.5,"y":1.68,"l":1.56,"h":1.8},{"m":"Model 1","x":17,"y":1.64,"l":1.52,"h":1.76},{"m":"Model 1","x":17.5,"y":1.6,"l":1.48,"h":1.72},{"m":"Model 1","x":18,"y":1.56,"l":1.44,"h":1.68},{"m":"Model 1","x":18.5,"y":1.53,"l":1.41,"h":1.65}
],
"Es": [
{"m":"Model 2","x":7,"y":111.0,"l":110.0,"h":112.0},{"m":"Model 2","x":7.5,"y":111.6,"l":110.3,"h":112.9},{"m":"Model 2","x":8,"y":112.1,"l":110.6,"h":113.6},{"m":"Model 2","x":8.5,"y":112.6,"l":110.9,"h":114.3},{"m":"Model 2","x":9,"y":113.0,"l":111.1,"h":114.9},{"m":"Model 2","x":9.5,"y":113.3,"l":111.2,"h":115.4},{"m":"Model 2","x":10,"y":113.6,"l":111.3,"h":115.9},{"m":"Model 2","x":10.5,"y":113.8,"l":111.3,"h":116.3},{"m":"Model 2","x":11,"y":114.0,"l":111.3,"h":116.7},{"m":"Model 2","x":11.5,"y":114.2,"l":111.3,"h":117.1},{"m":"Model 2","x":12,"y":114.3,"l":111.3,"h":117.3},{"m":"Model 2","x":12.5,"y":114.4,"l":111.3,"h":117.5},{"m":"Model 2","x":13,"y":114.5,"l":111.3,"h":117.7},{"m":"Model 2","x":13.5,"y":114.5,"l":111.2,"h":117.8},{"m":"Model 2","x":14,"y":114.6,"l":111.2,"h":118.0},{"m":"Model 2","x":14.5,"y":114.6,"l":111.1,"h":118.1},{"m":"Model 2","x":15,"y":114.7,"l":111.1,"h":118.3},{"m":"Model 2","x":15.5,"y":114.7,"l":111.1,"h":118.3},{"m":"Model 2","x":16,"y":114.7,"l":111.0,"h":118.4},{"m":"Model 2","x":16.5,"y":114.8,"l":111.1,"h":118.5},{"m":"Model 2","x":17,"y":114.8,"l":111.0,"h":118.6},{"m":"Model 2","x":17.5,"y":114.8,"l":111.0,"h":118.6},{"m":"Model 2","x":18,"y":114.8,"l":111.0,"h":118.6},{"m":"Model 2","x":18.5,"y":114.8,"l":111.0,"h":118.6},
{"m":"Model 1","x":7,"y":110.9,"l":109.7,"h":112.1},{"m":"Model 1","x":7.5,"y":111.4,"l":110.0,"h":112.8},{"m":"Model 1","x":8,"y":111.9,"l":110.3,"h":113.5},{"m":"Model 1","x":8.5,"y":112.3,"l":110.5,"h":114.1},{"m":"Model 1","x":9,"y":112.7,"l":110.7,"h":114.7},{"m":"Model 1","x":9.5,"y":113.1,"l":110.9,"h":115.3},{"m":"Model 1","x":10,"y":113.5,"l":111.1,"h":115.9},{"m":"Model 1","x":10.5,"y":113.8,"l":111.2,"h":116.4},{"m":"Model 1","x":11,"y":114.1,"l":111.3,"h":116.9},{"m":"Model 1","x":11.5,"y":114.4,"l":111.4,"h":117.4},{"m":"Model 1","x":12,"y":114.6,"l":111.5,"h":117.7},{"m":"Model 1","x":12.5,"y":114.8,"l":111.6,"h":118.0},{"m":"Model 1","x":13,"y":115.0,"l":111.7,"h":118.3},{"m":"Model 1","x":13.5,"y":115.1,"l":111.7,"h":118.5},{"m":"Model 1","x":14,"y":115.2,"l":111.7,"h":118.7},{"m":"Model 1","x":14.5,"y":115.3,"l":111.7,"h":118.9},{"m":"Model 1","x":15,"y":115.4,"l":111.7,"h":119.1},{"m":"Model 1","x":15.5,"y":115.5,"l":111.7,"h":119.3},{"m":"Model 1","x":16,"y":115.5,"l":111.7,"h":119.3},{"m":"Model 1","x":16.5,"y":115.6,"l":111.7,"h":119.5},{"m":"Model 1","x":17,"y":115.6,"l":111.7,"h":119.5},{"m":"Model 1","x":17.5,"y":115.6,"l":111.6,"h":119.6},{"m":"Model 1","x":18,"y":115.7,"l":111.7,"h":119.7},{"m":"Model 1","x":18.5,"y":115.7,"l":111.7,"h":119.7}
],
"En": [
{"m":"Model 2","x":7,"y":13.3,"l":12.7,"h":13.9},{"m":"Model 2","x":7.5,"y":12.4,"l":11.85,"h":12.95},{"m":"Model 2","x":8,"y":11.6,"l":11.1,"h":12.1},{"m":"Model 2","x":8.5,"y":10.95,"l":10.5,"h":11.4},{"m":"Model 2","x":9,"y":10.3,"l":9.85,"h":10.75},{"m":"Model 2","x":9.5,"y":9.7,"l":9.3,"h":10.1},{"m":"Model 2","x":10,"y":9.15,"l":8.75,"h":9.55},{"m":"Model 2","x":10.5,"y":8.65,"l":8.25,"h":9.05},{"m":"Model 2","x":11,"y":8.15,"l":7.8,"h":8.5},{"m":"Model 2","x":11.5,"y":7.7,"l":7.35,"h":8.05},{"m":"Model 2","x":12,"y":7.3,"l":6.95,"h":7.65},{"m":"Model 2","x":12.5,"y":6.9,"l":6.55,"h":7.25},{"m":"Model 2","x":13,"y":6.6,"l":6.25,"h":6.95},{"m":"Model 2","x":13.5,"y":6.3,"l":6.0,"h":6.6},{"m":"Model 2","x":14,"y":6.0,"l":5.7,"h":6.3},{"m":"Model 2","x":14.5,"y":5.75,"l":5.45,"h":6.05},{"m":"Model 2","x":15,"y":5.5,"l":5.2,"h":5.8},{"m":"Model 2","x":15.5,"y":5.3,"l":5.0,"h":5.6},{"m":"Model 2","x":16,"y":5.1,"l":4.8,"h":5.4},{"m":"Model 2","x":16.5,"y":4.9,"l":4.6,"h":5.2},{"m":"Model 2","x":17,"y":4.7,"l":4.4,"h":5.0},{"m":"Model 2","x":17.5,"y":4.55,"l":4.25,"h":4.85},{"m":"Model 2","x":18,"y":4.4,"l":4.1,"h":4.7},{"m":"Model 2","x":18.5,"y":4.25,"l":3.95,"h":4.55},
{"m":"Model 1","x":7,"y":13.3,"l":12.7,"h":13.9},{"m":"Model 1","x":7.5,"y":12.4,"l":11.85,"h":12.95},{"m":"Model 1","x":8,"y":11.6,"l":11.1,"h":12.1},{"m":"Model 1","x":8.5,"y":10.95,"l":10.5,"h":11.4},{"m":"Model 1","x":9,"y":10.3,"l":9.85,"h":10.75},{"m":"Model 1","x":9.5,"y":9.7,"l":9.3,"h":10.1},{"m":"Model 1","x":10,"y":9.15,"l":8.75,"h":9.55},{"m":"Model 1","x":10.5,"y":8.65,"l":8.25,"h":9.05},{"m":"Model 1","x":11,"y":8.15,"l":7.8,"h":8.5},{"m":"Model 1","x":11.5,"y":7.7,"l":7.35,"h":8.05},{"m":"Model 1","x":12,"y":7.3,"l":6.95,"h":7.65},{"m":"Model 1","x":12.5,"y":6.9,"l":6.55,"h":7.25},{"m":"Model 1","x":13,"y":6.6,"l":6.25,"h":6.95},{"m":"Model 1","x":13.5,"y":6.3,"l":6.0,"h":6.6},{"m":"Model 1","x":14,"y":6.0,"l":5.7,"h":6.3},{"m":"Model 1","x":14.5,"y":5.75,"l":5.45,"h":6.05},{"m":"Model 1","x":15,"y":5.5,"l":5.2,"h":5.8},{"m":"Model 1","x":15.5,"y":5.3,"l":5.0,"h":5.6},{"m":"Model 1","x":16,"y":5.1,"l":4.8,"h":5.4},{"m":"Model 1","x":16.5,"y":4.9,"l":4.6,"h":5.2},{"m":"Model 1","x":17,"y":4.7,"l":4.4,"h":5.0},{"m":"Model 1","x":17.5,"y":4.55,"l":4.25,"h":4.85},{"m":"Model 1","x":18,"y":4.4,"l":4.1,"h":4.7},{"m":"Model 1","x":18.5,"y":4.25,"l":3.95,"h":4.55}
],
"Fm": [
{"m":"Model 2","x":7,"y":1.8,"l":1.72,"h":1.88},{"m":"Model 2","x":7.5,"y":1.75,"l":1.66,"h":1.84},{"m":"Model 2","x":8,"y":1.71,"l":1.61,"h":1.81},{"m":"Model 2","x":8.5,"y":1.67,"l":1.57,"h":1.77},{"m":"Model 2","x":9,"y":1.63,"l":1.52,"h":1.74},{"m":"Model 2","x":9.5,"y":1.59,"l":1.47,"h":1.71},{"m":"Model 2","x":10,"y":1.55,"l":1.43,"h":1.67},{"m":"Model 2","x":10.5,"y":1.51,"l":1.38,"h":1.64},{"m":"Model 2","x":11,"y":1.48,"l":1.34,"h":1.62},{"m":"Model 2","x":11.5,"y":1.45,"l":1.31,"h":1.59},{"m":"Model 2","x":12,"y":1.42,"l":1.27,"h":1.57},{"m":"Model 2","x":12.5,"y":1.39,"l":1.24,"h":1.54},{"m":"Model 2","x":13,"y":1.36,"l":1.2,"h":1.52},{"m":"Model 2","x":13.5,"y":1.33,"l":1.17,"h":1.49},{"m":"Model 2","x":14,"y":1.31,"l":1.14,"h":1.48},{"m":"Model 2","x":14.5,"y":1.28,"l":1.11,"h":1.45},{"m":"Model 2","x":15,"y":1.26,"l":1.08,"h":1.44},{"m":"Model 2","x":15.5,"y":1.24,"l":1.06,"h":1.42},{"m":"Model 2","x":16,"y":1.22,"l":1.04,"h":1.4},{"m":"Model 2","x":16.5,"y":1.2,"l":1.01,"h":1.39},{"m":"Model 2","x":17,"y":1.18,"l":0.99,"h":1.37},{"m":"Model 2","x":17.5,"y":1.16,"l":0.96,"h":1.36},{"m":"Model 2","x":18,"y":1.14,"l":0.94,"h":1.34},{"m":"Model 2","x":18.5,"y":1.12,"l":0.92,"h":1.32},
{"m":"Model 1","x":7,"y":1.8,"l":1.72,"h":1.88},{"m":"Model 1","x":7.5,"y":1.77,"l":1.68,"h":1.86},{"m":"Model 1","x":8,"y":1.73,"l":1.63,"h":1.83},{"m":"Model 1","x":8.5,"y":1.7,"l":1.6,"h":1.8},{"m":"Model 1","x":9,"y":1.67,"l":1.56,"h":1.78},{"m":"Model 1","x":9.5,"y":1.64,"l":1.52,"h":1.76},{"m":"Model 1","x":10,"y":1.62,"l":1.5,"h":1.74},{"m":"Model 1","x":10.5,"y":1.59,"l":1.46,"h":1.72},{"m":"Model 1","x":11,"y":1.57,"l":1.43,"h":1.71},{"m":"Model 1","x":11.5,"y":1.55,"l":1.41,"h":1.69},{"m":"Model 1","x":12,"y":1.52,"l":1.37,"h":1.67},{"m":"Model 1","x":12.5,"y":1.5,"l":1.35,"h":1.65},{"m":"Model 1","x":13,"y":1.48,"l":1.32,"h":1.64},{"m":"Model 1","x":13.5,"y":1.46,"l":1.3,"h":1.62},{"m":"Model 1","x":14,"y":1.44,"l":1.27,"h":1.61},{"m":"Model 1","x":14.5,"y":1.42,"l":1.25,"h":1.59},{"m":"Model 1","x":15,"y":1.4,"l":1.22,"h":1.58},{"m":"Model 1","x":15.5,"y":1.38,"l":1.2,"h":1.56},{"m":"Model 1","x":16,"y":1.36,"l":1.18,"h":1.54},{"m":"Model 1","x":16.5,"y":1.34,"l":1.15,"h":1.53},{"m":"Model 1","x":17,"y":1.32,"l":1.13,"h":1.51},{"m":"Model 1","x":17.5,"y":1.3,"l":1.1,"h":1.5},{"m":"Model 1","x":18,"y":1.28,"l":1.08,"h":1.48},{"m":"Model 1","x":18.5,"y":1.26,"l":1.06,"h":1.46}
],
"Fs": [
{"m":"Model 2","x":7,"y":76.0,"l":67.0,"h":85.0},{"m":"Model 2","x":7.5,"y":76.4,"l":67.4,"h":85.4},{"m":"Model 2","x":8,"y":76.8,"l":67.8,"h":85.8},{"m":"Model 2","x":8.5,"y":77.2,"l":68.2,"h":86.2},{"m":"Model 2","x":9,"y":77.6,"l":68.6,"h":86.6},{"m":"Model 2","x":9.5,"y":78.0,"l":69.0,"h":87.0},{"m":"Model 2","x":10,"y":78.4,"l":69.4,"h":87.4},{"m":"Model 2","x":10.5,"y":78.7,"l":69.7,"h":87.7},{"m":"Model 2","x":11,"y":79.0,"l":70.0,"h":88.0},{"m":"Model 2","x":11.5,"y":79.4,"l":70.4,"h":88.4},{"m":"Model 2","x":12,"y":79.7,"l":70.7,"h":88.7},{"m":"Model 2","x":12.5,"y":80.0,"l":71.0,"h":89.0},{"m":"Model 2","x":13,"y":80.3,"l":71.3,"h":89.3},{"m":"Model 2","x":13.5,"y":80.6,"l":71.6,"h":89.6},{"m":"Model 2","x":14,"y":80.9,"l":71.9,"h":89.9},{"m":"Model 2","x":14.5,"y":81.2,"l":72.2,"h":90.2},{"m":"Model 2","x":15,"y":81.5,"l":72.5,"h":90.5},{"m":"Model 2","x":15.5,"y":81.8,"l":72.8,"h":90.8},{"m":"Model 2","x":16,"y":82.0,"l":73.0,"h":91.0},{"m":"Model 2","x":16.5,"y":82.3,"l":73.3,"h":91.3},{"m":"Model 2","x":17,"y":82.6,"l":73.6,"h":91.6},{"m":"Model 2","x":17.5,"y":82.9,"l":73.9,"h":91.9},{"m":"Model 2","x":18,"y":83.2,"l":74.2,"h":92.2},{"m":"Model 2","x":18.5,"y":83.5,"l":74.5,"h":92.5},
{"m":"Model 1","x":7,"y":85.0,"l":75.0,"h":95.0},{"m":"Model 1","x":7.5,"y":85.3,"l":75.3,"h":95.3},{"m":"Model 1","x":8,"y":85.6,"l":75.6,"h":95.6},{"m":"Model 1","x":8.5,"y":85.9,"l":75.9,"h":95.9},{"m":"Model 1","x":9,"y":86.2,"l":76.2,"h":96.2},{"m":"Model 1","x":9.5,"y":86.5,"l":76.5,"h":96.5},{"m":"Model 1","x":10,"y":86.8,"l":76.8,"h":96.8},{"m":"Model 1","x":10.5,"y":87.1,"l":77.1,"h":97.1},{"m":"Model 1","x":11,"y":87.4,"l":77.4,"h":97.4},{"m":"Model 1","x":11.5,"y":87.7,"l":77.7,"h":97.7},{"m":"Model 1","x":12,"y":88.0,"l":78.0,"h":98.0},{"m":"Model 1","x":12.5,"y":88.3,"l":78.3,"h":98.3},{"m":"Model 1","x":13,"y":88.5,"l":78.5,"h":98.5},{"m":"Model 1","x":13.5,"y":88.8,"l":78.8,"h":98.8},{"m":"Model 1","x":14,"y":89.1,"l":79.1,"h":99.1},{"m":"Model 1","x":14.5,"y":89.3,"l":79.3,"h":99.3},{"m":"Model 1","x":15,"y":89.6,"l":79.6,"h":99.6},{"m":"Model 1","x":15.5,"y":89.8,"l":79.8,"h":99.8},{"m":"Model 1","x":16,"y":90.0,"l":80.0,"h":100.0},{"m":"Model 1","x":16.5,"y":90.2,"l":80.2,"h":100.2},{"m":"Model 1","x":17,"y":90.4,"l":80.4,"h":100.4},{"m":"Model 1","x":17.5,"y":90.6,"l":80.6,"h":100.6},{"m":"Model 1","x":18,"y":90.8,"l":80.8,"h":100.8},{"m":"Model 1","x":18.5,"y":91.0,"l":81.0,"h":101.0}
],
"Fn": [
{"m":"Model 2","x":7,"y":19.5,"l":17.5,"h":21.5},{"m":"Model 2","x":7.5,"y":18.7,"l":16.7,"h":20.7},{"m":"Model 2","x":8,"y":17.9,"l":16.0,"h":19.8},{"m":"Model 2","x":8.5,"y":17.2,"l":15.4,"h":19.0},{"m":"Model 2","x":9,"y":16.6,"l":14.8,"h":18.4},{"m":"Model 2","x":9.5,"y":16.0,"l":14.3,"h":17.7},{"m":"Model 2","x":10,"y":15.4,"l":13.8,"h":17.0},{"m":"Model 2","x":10.5,"y":14.9,"l":13.3,"h":16.5},{"m":"Model 2","x":11,"y":14.4,"l":12.9,"h":15.9},{"m":"Model 2","x":11.5,"y":13.9,"l":12.4,"h":15.4},{"m":"Model 2","x":12,"y":13.5,"l":12.1,"h":14.9},{"m":"Model 2","x":12.5,"y":13.0,"l":11.6,"h":14.4},{"m":"Model 2","x":13,"y":12.6,"l":11.3,"h":13.9},{"m":"Model 2","x":13.5,"y":12.2,"l":10.9,"h":13.5},{"m":"Model 2","x":14,"y":11.9,"l":10.6,"h":13.2},{"m":"Model 2","x":14.5,"y":11.5,"l":10.3,"h":12.7},{"m":"Model 2","x":15,"y":11.2,"l":10.0,"h":12.4},{"m":"Model 2","x":15.5,"y":10.9,"l":9.7,"h":12.1},{"m":"Model 2","x":16,"y":10.6,"l":9.5,"h":11.7},{"m":"Model 2","x":16.5,"y":10.3,"l":9.2,"h":11.4},{"m":"Model 2","x":17,"y":10.0,"l":8.9,"h":11.1},{"m":"Model 2","x":17.5,"y":9.8,"l":8.8,"h":10.8},{"m":"Model 2","x":18,"y":9.6,"l":8.6,"h":10.6},{"m":"Model 2","x":18.5,"y":9.4,"l":8.4,"h":10.4},
{"m":"Model 1","x":7,"y":16.5,"l":14.7,"h":18.3},{"m":"Model 1","x":7.5,"y":15.9,"l":14.2,"h":17.6},{"m":"Model 1","x":8,"y":15.3,"l":13.6,"h":17.0},{"m":"Model 1","x":8.5,"y":14.8,"l":13.2,"h":16.4},{"m":"Model 1","x":9,"y":14.3,"l":12.7,"h":15.9},{"m":"Model 1","x":9.5,"y":13.9,"l":12.4,"h":15.4},{"m":"Model 1","x":10,"y":13.5,"l":12.0,"h":15.0},{"m":"Model 1","x":10.5,"y":13.1,"l":11.7,"h":14.5},{"m":"Model 1","x":11,"y":12.8,"l":11.4,"h":14.2},{"m":"Model 1","x":11.5,"y":12.4,"l":11.1,"h":13.7},{"m":"Model 1","x":12,"y":12.1,"l":10.8,"h":13.4},{"m":"Model 1","x":12.5,"y":11.8,"l":10.6,"h":13.0},{"m":"Model 1","x":13,"y":11.5,"l":10.3,"h":12.7},{"m":"Model 1","x":13.5,"y":11.3,"l":10.1,"h":12.5},{"m":"Model 1","x":14,"y":11.0,"l":9.9,"h":12.1},{"m":"Model 1","x":14.5,"y":10.8,"l":9.7,"h":11.9},{"m":"Model 1","x":15,"y":10.6,"l":9.5,"h":11.7},{"m":"Model 1","x":15.5,"y":10.4,"l":9.4,"h":11.4},{"m":"Model 1","x":16,"y":10.2,"l":9.2,"h":11.2},{"m":"Model 1","x":16.5,"y":10.0,"l":9.0,"h":11.0},{"m":"Model 1","x":17,"y":9.8,"l":8.9,"h":10.7},{"m":"Model 1","x":17.5,"y":9.6,"l":8.7,"h":10.5},{"m":"Model 1","x":18,"y":9.4,"l":8.5,"h":10.3},{"m":"Model 1","x":18.5,"y":9.2,"l":8.3,"h":10.1}
]
},
"resolve": {"scale": {"color": "independent", "fill": "independent", "strokeDash": "independent", "strokeWidth": "independent"}},
"spacing": 2,
"hconcat": [
{
 "title": {"text": "Epididymal", "anchor": "middle", "fontSize": 12, "offset": -1},
 "resolve": {"scale": {"color": "independent", "fill": "independent", "strokeDash": "independent", "strokeWidth": "independent"}},
 "spacing": 0,
 "vconcat": [
  {
   "title": {"text": "A", "offset": 0},
   "resolve": {"scale": {"color": "independent", "fill": "independent", "strokeDash": "independent"}},
   "spacing": 4,
   "vconcat": [
    {
     "width": 200, "height": 73,
     "data": {"name": "As"},
     "resolve": {"axis": {"x": "independent", "y": "independent"}},
     "layer": [
      {"mark": {"type": "line", "interpolate": "monotone", "strokeWidth": 1},
       "encoding": {
        "x": {"field": "x", "type": "quantitative", "scale": {"domain": [25, 175]}, "axis": {"values": [25,50,75,100,125,150,175], "labels": false, "title": null}},
        "y": {"field": "y", "type": "quantitative", "scale": {"domain": [-0.4, 6], "nice": false}, "axis": {"values": [0,2,4,6], "labelExpr": "'' + datum.value", "title": "Shrinkage rate (μm/week)"}},
        "color": {"field": "m", "type": "nominal", "scale": {"domain": ["Model 1","Model 2"], "range": ["black","#555"]},
          "legend": {"title": null, "orient": "none", "legendX": 174, "legendY": 0, "symbolType": "M-2.8,0H2.8M-2.8,-0.7V0.7M2.8,-0.7V0.7M0.6,0A0.6,0.6,0,1,1,-0.6,0A0.6,0.6,0,1,1,0.6,0Z", "symbolSize": 64, "symbolStrokeWidth": 1, "labelAlign": "right", "labelOffset": -19, "padding": 0, "rowPadding": 0, "encode": {"symbols": {"update": {"fill": {"signal": "datum.value === 'Model 1' ? 'black' : 'white'"}, "stroke": {"value": "black"}, "strokeDash": {"value": [1, 0]}}}}}},
        "strokeDash": {"field": "m", "type": "nominal", "scale": {"domain": ["Model 1","Model 2"], "range": [[1,0],[4,2,1,2]]}, "legend": null}}},
      {"mark": {"type": "errorbar", "ticks": {"size": 4}},
       "encoding": {
        "x": {"field": "x", "type": "quantitative", "scale": {"domain": [25, 175]}, "axis": null},
        "y": {"field": "l", "type": "quantitative", "scale": {"domain": [-0.4, 6], "nice": false}, "axis": null}, "y2": {"field": "h"}, "color": {"field": "m", "type": "nominal", "legend": null}}},
      {"mark": {"type": "point", "shape": "circle", "filled": true, "size": 20, "stroke": "black", "strokeWidth": 0.8, "opacity": 1},
       "encoding": {
        "x": {"field": "x", "type": "quantitative", "scale": {"domain": [25, 175]}, "axis": {"orient": "top", "values": [25,50,75,100,125,150,175], "labels": false, "title": null}},
        "y": {"field": "y", "type": "quantitative", "scale": {"domain": [-0.4, 6], "nice": false}, "axis": {"orient": "right", "values": [0,2,4,6], "labels": false, "title": null}},
        "fill": {"field": "m", "type": "nominal", "scale": {"domain": ["Model 1","Model 2"], "range": ["black","white"]}, "legend": null}}}
     ]
    },
    {
     "width": 200, "height": 75,
     "data": {"name": "Ad"},
     "resolve": {"axis": {"x": "independent", "y": "independent"}},
     "layer": [
      {"mark": {"type": "line", "interpolate": "monotone", "strokeWidth": 1},
       "encoding": {
        "x": {"field": "x", "type": "quantitative", "scale": {"domain": [25, 175]}, "axis": {"values": [25,50,75,100,125,150,175], "title": "Cell diameter (μm)"}},
        "y": {"field": "y", "type": "quantitative", "scale": {"domain": [-0.05, 0.3], "nice": false}, "axis": {"values": [0,0.1,0.2,0.3], "labelExpr": "'' + datum.value", "title": "Death rate (week⁻¹)"}},
        "color": {"field": "m", "type": "nominal", "scale": {"domain": ["Model 1","Model 2"], "range": ["black","#555"]}, "legend": null},
        "strokeDash": {"field": "m", "type": "nominal", "scale": {"domain": ["Model 1","Model 2"], "range": [[1,0],[4,2,1,2]]}, "legend": null}}},
      {"mark": {"type": "errorbar", "ticks": {"size": 4}},
       "encoding": {
        "x": {"field": "x", "type": "quantitative", "scale": {"domain": [25, 175]}, "axis": null},
        "y": {"field": "l", "type": "quantitative", "scale": {"domain": [-0.05, 0.3], "nice": false}, "axis": null}, "y2": {"field": "h"}, "color": {"field": "m", "type": "nominal", "legend": null}}},
      {"mark": {"type": "point", "shape": "circle", "filled": true, "size": 20, "stroke": "black", "strokeWidth": 0.8, "opacity": 1},
       "encoding": {
        "x": {"field": "x", "type": "quantitative", "scale": {"domain": [25, 175]}, "axis": {"orient": "top", "values": [25,50,75,100,125,150,175], "labels": false, "title": null}},
        "y": {"field": "y", "type": "quantitative", "scale": {"domain": [-0.05, 0.3], "nice": false}, "axis": {"orient": "right", "values": [0,0.1,0.2,0.3], "labels": false, "title": null}},
        "fill": {"field": "m", "type": "nominal", "scale": {"domain": ["Model 1","Model 2"], "range": ["black","white"]}, "legend": null}}}
     ]
    }
   ]
  },
  {
   "title": {"text": "C", "offset": -2},
   "resolve": {"scale": {"color": "independent", "fill": "independent", "strokeDash": "independent", "strokeWidth": "independent"}},
   "spacing": 3,
   "vconcat": [
    {
     "width": 200, "height": 97,
     "title": {"text": "Model 1", "anchor": "end", "frame": "group", "offset": -24, "dx": -14, "fontSize": 9, "fontWeight": "normal"},
     "resolve": {"axis": {"x": "independent", "y": "independent"}},
     "layer": [
      {"data": {"name": "MC"}, "mark": {"type": "point", "shape": "circle", "filled": true, "size": 4, "color": "#777", "opacity": 1},
       "encoding": {
        "x": {"field": "x", "type": "quantitative", "scale": {"domain": [25, 175]}, "axis": {"orient": "top", "values": [25,50,75,100,125,150,175], "labels": false, "title": null}},
        "y": {"field": "y", "type": "quantitative", "scale": {"domain": [0, 3], "nice": false}, "axis": {"orient": "right", "values": [0,1,2,3], "labels": false, "title": null}}}},
      {"data": {"name": "C1"}, "mark": {"type": "line", "interpolate": "monotone", "clip": true},
       "encoding": {
        "x": {"field": "x", "type": "quantitative", "scale": {"domain": [25, 175]}, "axis": {"values": [25,50,75,100,125,150,175], "labels": false, "title": null}},
        "y": {"field": "y", "type": "quantitative", "scale": {"domain": [0, 3], "nice": false}, "axis": {"values": [0,1,2,3], "labelExpr": "'' + datum.value", "title": "Absolute frequency (x10⁵)"}},
        "color": {"field": "s", "type": "nominal", "scale": {"domain": ["week 7","week 10","week 14","week 19","measured"], "range": ["#888","#333","#333","#222","#777"]},
          "legend": {"title": null, "orient": "none", "legendX": 66, "legendY": 0, "symbolType": "M-1,0H6", "symbolSize": 16, "labelOffset": 13, "strokeColor": "black", "fillColor": "white", "padding": 3, "rowPadding": 0}},
        "strokeDash": {"field": "s", "type": "nominal", "scale": {"domain": ["week 7","week 10","week 14","week 19","measured"], "range": [[1,1.5],[2,1],[4,2],[1,0],[1.5,40]]},
          "legend": {"title": null, "orient": "none", "legendX": 66, "legendY": 0, "symbolType": "M-1,0H6", "symbolSize": 16, "labelOffset": 13, "strokeColor": "black", "fillColor": "white", "padding": 3, "rowPadding": 0}},
        "strokeWidth": {"field": "s", "type": "nominal", "scale": {"domain": ["week 7","week 10","week 14","week 19","measured"], "range": [1,1,1,1.5,1.5]}, "legend": null}}}
     ]
    },
    {
     "width": 200, "height": 96,
     "title": {"text": "Model 2", "anchor": "end", "frame": "group", "offset": -24, "dx": -14, "fontSize": 9, "fontWeight": "normal"},
     "resolve": {"axis": {"x": "independent", "y": "independent"}},
     "layer": [
      {"data": {"name": "MC"}, "mark": {"type": "point", "shape": "circle", "filled": true, "size": 4, "color": "#777", "opacity": 1},
       "encoding": {
        "x": {"field": "x", "type": "quantitative", "scale": {"domain": [25, 175]}, "axis": {"orient": "top", "values": [25,50,75,100,125,150,175], "labels": false, "title": null}},
        "y": {"field": "y", "type": "quantitative", "scale": {"domain": [0, 3], "nice": false}, "axis": {"orient": "right", "values": [0,1,2,3], "labels": false, "title": null}}}},
      {"data": {"name": "C2"}, "mark": {"type": "line", "interpolate": "monotone", "clip": true},
       "encoding": {
        "x": {"field": "x", "type": "quantitative", "scale": {"domain": [25, 175]}, "axis": {"values": [25,50,75,100,125,150,175], "title": "Cell diameter (μm)"}},
        "y": {"field": "y", "type": "quantitative", "scale": {"domain": [0, 3], "nice": false}, "axis": {"values": [0,1,2,3], "labelExpr": "'' + datum.value", "title": "Absolute frequency (x10⁵)"}},
        "color": {"field": "s", "type": "nominal", "scale": {"domain": ["week 7","week 10","week 14","week 19"], "range": ["#888","#333","#333","#222"]}, "legend": null},
        "strokeDash": {"field": "s", "type": "nominal", "scale": {"domain": ["week 7","week 10","week 14","week 19"], "range": [[1,1.5],[2,1],[4,2],[1,0]]}, "legend": null},
        "strokeWidth": {"field": "s", "type": "nominal", "scale": {"domain": ["week 7","week 10","week 14","week 19"], "range": [1,1,1,1.5]}, "legend": null}}}
     ]
    }
   ]
  },
  {
   "title": {"text": "E", "offset": -2},
   "resolve": {"scale": {"color": "independent", "fill": "independent", "strokeDash": "independent"}},
   "spacing": 3,
   "vconcat": [
    {
     "width": 200, "height": 54,
     "data": {"name": "Em"},
     "resolve": {"axis": {"x": "independent", "y": "independent"}},
     "layer": [
      {"mark": {"type": "line", "interpolate": "monotone", "strokeWidth": 1},
       "encoding": {
        "x": {"field": "x", "type": "quantitative", "scale": {"domain": [7, 19]}, "axis": {"values": [7,8,9,10,11,12,13,14,15,16,17,18,19], "labels": false, "title": null}},
        "y": {"field": "y", "type": "quantitative", "scale": {"domain": [1, 3], "nice": false}, "axis": {"values": [1,2,3], "labelExpr": "'' + datum.value", "title": ["Tissue mass", "(g)"]}},
        "color": {"field": "m", "type": "nominal", "scale": {"domain": ["Model 1","Model 2"], "range": ["black","#555"]},
          "legend": {"title": null, "orient": "none", "legendX": 174, "legendY": 11, "symbolType": "M-2.8,0H2.8M-2.8,-0.7V0.7M2.8,-0.7V0.7M0.6,0A0.6,0.6,0,1,1,-0.6,0A0.6,0.6,0,1,1,0.6,0Z", "symbolSize": 64, "symbolStrokeWidth": 1, "labelAlign": "right", "labelOffset": -19, "padding": 0, "rowPadding": 0, "encode": {"symbols": {"update": {"fill": {"signal": "datum.value === 'Model 1' ? 'black' : 'white'"}, "stroke": {"value": "black"}, "strokeDash": {"value": [1, 0]}}}}}},
        "strokeDash": {"field": "m", "type": "nominal", "scale": {"domain": ["Model 1","Model 2"], "range": [[1,0],[4,2,1,2]]}, "legend": null}}},
      {"mark": {"type": "errorbar", "ticks": {"size": 4}},
       "encoding": {
        "x": {"field": "x", "type": "quantitative", "scale": {"domain": [7, 19]}, "axis": null},
        "y": {"field": "l", "type": "quantitative", "scale": {"domain": [1, 3], "nice": false}, "axis": null}, "y2": {"field": "h"}, "color": {"field": "m", "type": "nominal", "legend": null}}},
      {"mark": {"type": "point", "shape": "circle", "filled": true, "size": 20, "stroke": "black", "strokeWidth": 0.8, "opacity": 1},
       "encoding": {
        "x": {"field": "x", "type": "quantitative", "scale": {"domain": [7, 19]}, "axis": {"orient": "top", "values": [7,8,9,10,11,12,13,14,15,16,17,18,19], "labels": false, "title": null}},
        "y": {"field": "y", "type": "quantitative", "scale": {"domain": [1, 3], "nice": false}, "axis": {"orient": "right", "values": [1,2,3], "labels": false, "title": null}},
        "fill": {"field": "m", "type": "nominal", "scale": {"domain": ["Model 1","Model 2"], "range": ["black","white"]}, "legend": null}}}
     ]
    },
    {
     "width": 200, "height": 56,
     "data": {"name": "Es"},
     "resolve": {"axis": {"x": "independent", "y": "independent"}},
     "layer": [
      {"mark": {"type": "line", "interpolate": "monotone", "strokeWidth": 1},
       "encoding": {
        "x": {"field": "x", "type": "quantitative", "scale": {"domain": [7, 19]}, "axis": {"values": [7,8,9,10,11,12,13,14,15,16,17,18,19], "labels": false, "title": null}},
        "y": {"field": "y", "type": "quantitative", "scale": {"domain": [100, 120], "nice": false}, "axis": {"values": [100,110,120], "labelExpr": "'' + datum.value", "title": ["Mean cell size", "(μm)"]}},
        "color": {"field": "m", "type": "nominal", "scale": {"domain": ["Model 1","Model 2"], "range": ["black","#555"]}, "legend": null},
        "strokeDash": {"field": "m", "type": "nominal", "scale": {"domain": ["Model 1","Model 2"], "range": [[1,0],[4,2,1,2]]}, "legend": null}}},
      {"mark": {"type": "errorbar", "ticks": {"size": 4}},
       "encoding": {
        "x": {"field": "x", "type": "quantitative", "scale": {"domain": [7, 19]}, "axis": null},
        "y": {"field": "l", "type": "quantitative", "scale": {"domain": [100, 120], "nice": false}, "axis": null}, "y2": {"field": "h"}, "color": {"field": "m", "type": "nominal", "legend": null}}},
      {"mark": {"type": "point", "shape": "circle", "filled": true, "size": 20, "stroke": "black", "strokeWidth": 0.8, "opacity": 1},
       "encoding": {
        "x": {"field": "x", "type": "quantitative", "scale": {"domain": [7, 19]}, "axis": {"orient": "top", "values": [7,8,9,10,11,12,13,14,15,16,17,18,19], "labels": false, "title": null}},
        "y": {"field": "y", "type": "quantitative", "scale": {"domain": [100, 120], "nice": false}, "axis": {"orient": "right", "values": [100,110,120], "labels": false, "title": null}},
        "fill": {"field": "m", "type": "nominal", "scale": {"domain": ["Model 1","Model 2"], "range": ["black","white"]}, "legend": null}}}
     ]
    },
    {
     "width": 200, "height": 42,
     "data": {"name": "En"},
     "resolve": {"axis": {"x": "independent", "y": "independent"}},
     "layer": [
      {"mark": {"type": "line", "interpolate": "monotone", "strokeWidth": 1},
       "encoding": {
        "x": {"field": "x", "type": "quantitative", "scale": {"domain": [7, 19]}, "axis": {"values": [7,8,9,10,11,12,13,14,15,16,17,18,19], "title": "Time (weeks)", "titlePadding": 2}},
        "y": {"field": "y", "type": "quantitative", "scale": {"domain": [0, 15], "nice": false}, "axis": {"values": [0,5,10,15], "labelExpr": "'' + datum.value", "title": ["Total cell number", "(x10⁷)"]}},
        "color": {"field": "m", "type": "nominal", "scale": {"domain": ["Model 1","Model 2"], "range": ["black","#555"]}, "legend": null},
        "strokeDash": {"field": "m", "type": "nominal", "scale": {"domain": ["Model 1","Model 2"], "range": [[1,0],[4,2,1,2]]}, "legend": null}}},
      {"mark": {"type": "errorbar", "ticks": {"size": 4}},
       "encoding": {
        "x": {"field": "x", "type": "quantitative", "scale": {"domain": [7, 19]}, "axis": null},
        "y": {"field": "l", "type": "quantitative", "scale": {"domain": [0, 15], "nice": false}, "axis": null}, "y2": {"field": "h"}, "color": {"field": "m", "type": "nominal", "legend": null}}},
      {"mark": {"type": "point", "shape": "circle", "filled": true, "size": 20, "stroke": "black", "strokeWidth": 0.8, "opacity": 1},
       "encoding": {
        "x": {"field": "x", "type": "quantitative", "scale": {"domain": [7, 19]}, "axis": {"orient": "top", "values": [7,8,9,10,11,12,13,14,15,16,17,18,19], "labels": false, "title": null}},
        "y": {"field": "y", "type": "quantitative", "scale": {"domain": [0, 15], "nice": false}, "axis": {"orient": "right", "values": [0,5,10,15], "labels": false, "title": null}},
        "fill": {"field": "m", "type": "nominal", "scale": {"domain": ["Model 1","Model 2"], "range": ["black","white"]}, "legend": null}}}
     ]
    }
   ]
  }
 ]
},
{
 "title": {"text": "Inguinal", "anchor": "middle", "fontSize": 12, "offset": -1},
 "resolve": {"scale": {"color": "independent", "fill": "independent", "strokeDash": "independent", "strokeWidth": "independent"}},
 "spacing": 0,
 "vconcat": [
  {
   "title": {"text": "B", "offset": 0},
   "resolve": {"scale": {"color": "independent", "fill": "independent", "strokeDash": "independent"}},
   "spacing": 4,
   "vconcat": [
    {
     "width": 200, "height": 73,
     "data": {"name": "Bs"},
     "resolve": {"axis": {"x": "independent", "y": "independent"}},
     "layer": [
      {"mark": {"type": "line", "interpolate": "monotone", "strokeWidth": 1},
       "encoding": {
        "x": {"field": "x", "type": "quantitative", "scale": {"domain": [25, 175]}, "axis": {"values": [25,50,75,100,125,150,175], "labels": false, "title": null}},
        "y": {"field": "y", "type": "quantitative", "scale": {"domain": [-0.4, 6], "nice": false}, "axis": {"values": [0,2,4,6], "labelExpr": "'' + datum.value", "title": "Shrinkage rate (μm/week)"}},
        "color": {"field": "m", "type": "nominal", "scale": {"domain": ["Model 1","Model 2"], "range": ["black","#555"]},
          "legend": {"title": null, "orient": "none", "legendX": 172, "legendY": 0, "symbolType": "M-2.8,0H2.8M-2.8,-0.7V0.7M2.8,-0.7V0.7M0.6,0A0.6,0.6,0,1,1,-0.6,0A0.6,0.6,0,1,1,0.6,0Z", "symbolSize": 64, "symbolStrokeWidth": 1, "labelAlign": "right", "labelOffset": -19, "padding": 0, "rowPadding": 0, "encode": {"symbols": {"update": {"fill": {"signal": "datum.value === 'Model 1' ? 'black' : 'white'"}, "stroke": {"value": "black"}, "strokeDash": {"value": [1, 0]}}}}}},
        "strokeDash": {"field": "m", "type": "nominal", "scale": {"domain": ["Model 1","Model 2"], "range": [[1,0],[4,2,1,2]]}, "legend": null}}},
      {"mark": {"type": "errorbar", "ticks": {"size": 4}},
       "encoding": {
        "x": {"field": "x", "type": "quantitative", "scale": {"domain": [25, 175]}, "axis": null},
        "y": {"field": "l", "type": "quantitative", "scale": {"domain": [-0.4, 6], "nice": false}, "axis": null}, "y2": {"field": "h"}, "color": {"field": "m", "type": "nominal", "legend": null}}},
      {"mark": {"type": "point", "shape": "circle", "filled": true, "size": 20, "stroke": "black", "strokeWidth": 0.8, "opacity": 1},
       "encoding": {
        "x": {"field": "x", "type": "quantitative", "scale": {"domain": [25, 175]}, "axis": {"orient": "top", "values": [25,50,75,100,125,150,175], "labels": false, "title": null}},
        "y": {"field": "y", "type": "quantitative", "scale": {"domain": [-0.4, 6], "nice": false}, "axis": {"orient": "right", "values": [0,2,4,6], "labels": false, "title": null}},
        "fill": {"field": "m", "type": "nominal", "scale": {"domain": ["Model 1","Model 2"], "range": ["black","white"]}, "legend": null}}}
     ]
    },
    {
     "width": 200, "height": 75,
     "data": {"name": "Bd"},
     "resolve": {"axis": {"x": "independent", "y": "independent"}},
     "layer": [
      {"mark": {"type": "line", "interpolate": "monotone", "strokeWidth": 1},
       "encoding": {
        "x": {"field": "x", "type": "quantitative", "scale": {"domain": [25, 175]}, "axis": {"values": [25,50,75,100,125,150,175], "title": "Cell diameter (μm)"}},
        "y": {"field": "y", "type": "quantitative", "scale": {"domain": [-0.05, 0.3], "nice": false}, "axis": {"values": [0,0.1,0.2,0.3], "labelExpr": "'' + datum.value", "title": "Death rate (week⁻¹)"}},
        "color": {"field": "m", "type": "nominal", "scale": {"domain": ["Model 1","Model 2"], "range": ["black","#555"]}, "legend": null},
        "strokeDash": {"field": "m", "type": "nominal", "scale": {"domain": ["Model 1","Model 2"], "range": [[1,0],[4,2,1,2]]}, "legend": null}}},
      {"mark": {"type": "errorbar", "ticks": {"size": 4}},
       "encoding": {
        "x": {"field": "x", "type": "quantitative", "scale": {"domain": [25, 175]}, "axis": null},
        "y": {"field": "l", "type": "quantitative", "scale": {"domain": [-0.05, 0.3], "nice": false}, "axis": null}, "y2": {"field": "h"}, "color": {"field": "m", "type": "nominal", "legend": null}}},
      {"mark": {"type": "point", "shape": "circle", "filled": true, "size": 20, "stroke": "black", "strokeWidth": 0.8, "opacity": 1},
       "encoding": {
        "x": {"field": "x", "type": "quantitative", "scale": {"domain": [25, 175]}, "axis": {"orient": "top", "values": [25,50,75,100,125,150,175], "labels": false, "title": null}},
        "y": {"field": "y", "type": "quantitative", "scale": {"domain": [-0.05, 0.3], "nice": false}, "axis": {"orient": "right", "values": [0,0.1,0.2,0.3], "labels": false, "title": null}},
        "fill": {"field": "m", "type": "nominal", "scale": {"domain": ["Model 1","Model 2"], "range": ["black","white"]}, "legend": null}}}
     ]
    }
   ]
  },
  {
   "title": {"text": "D", "offset": -2},
   "resolve": {"scale": {"color": "independent", "fill": "independent", "strokeDash": "independent", "strokeWidth": "independent"}},
   "spacing": 3,
   "vconcat": [
    {
     "width": 200, "height": 97,
     "title": {"text": "Model 1", "anchor": "end", "frame": "group", "offset": -24, "dx": -14, "fontSize": 9, "fontWeight": "normal"},
     "resolve": {"axis": {"x": "independent", "y": "independent"}},
     "layer": [
      {"data": {"name": "MD"}, "mark": {"type": "point", "shape": "circle", "filled": true, "size": 4, "color": "#777", "opacity": 1},
       "encoding": {
        "x": {"field": "x", "type": "quantitative", "scale": {"domain": [25, 175]}, "axis": {"orient": "top", "values": [25,50,75,100,125,150,175], "labels": false, "title": null}},
        "y": {"field": "y", "type": "quantitative", "scale": {"domain": [0, 4], "nice": false}, "axis": {"orient": "right", "values": [0,1,2,3,4], "labels": false, "title": null}}}},
      {"data": {"name": "D1"}, "mark": {"type": "line", "interpolate": "monotone", "clip": true},
       "encoding": {
        "x": {"field": "x", "type": "quantitative", "scale": {"domain": [25, 175]}, "axis": {"values": [25,50,75,100,125,150,175], "labels": false, "title": null}},
        "y": {"field": "y", "type": "quantitative", "scale": {"domain": [0, 4], "nice": false}, "axis": {"values": [0,1,2,3,4], "labelExpr": "'' + datum.value", "title": "Absolute frequency (x10⁵)"}},
        "color": {"field": "s", "type": "nominal", "scale": {"domain": ["week 7","week 10","week 14","week 19"], "range": ["#888","#333","#333","#222"]}, "legend": null},
        "strokeDash": {"field": "s", "type": "nominal", "scale": {"domain": ["week 7","week 10","week 14","week 19"], "range": [[1,1.5],[2,1],[4,2],[1,0]]}, "legend": null},
        "strokeWidth": {"field": "s", "type": "nominal", "scale": {"domain": ["week 7","week 10","week 14","week 19"], "range": [1,1,1,1.5]}, "legend": null}}}
     ]
    },
    {
     "width": 200, "height": 96,
     "title": {"text": "Model 2", "anchor": "end", "frame": "group", "offset": -24, "dx": -14, "fontSize": 9, "fontWeight": "normal"},
     "resolve": {"axis": {"x": "independent", "y": "independent"}},
     "layer": [
      {"data": {"name": "MD"}, "mark": {"type": "point", "shape": "circle", "filled": true, "size": 4, "color": "#777", "opacity": 1},
       "encoding": {
        "x": {"field": "x", "type": "quantitative", "scale": {"domain": [25, 175]}, "axis": {"orient": "top", "values": [25,50,75,100,125,150,175], "labels": false, "title": null}},
        "y": {"field": "y", "type": "quantitative", "scale": {"domain": [0, 4], "nice": false}, "axis": {"orient": "right", "values": [0,1,2,3,4], "labels": false, "title": null}}}},
      {"data": {"name": "D2"}, "mark": {"type": "line", "interpolate": "monotone", "clip": true},
       "encoding": {
        "x": {"field": "x", "type": "quantitative", "scale": {"domain": [25, 175]}, "axis": {"values": [25,50,75,100,125,150,175], "title": "Cell diameter (μm)"}},
        "y": {"field": "y", "type": "quantitative", "scale": {"domain": [0, 4], "nice": false}, "axis": {"values": [0,1,2,3,4], "labelExpr": "'' + datum.value", "title": "Absolute frequency (x10⁵)"}},
        "color": {"field": "s", "type": "nominal", "scale": {"domain": ["week 7","week 10","week 14","week 19"], "range": ["#888","#333","#333","#222"]}, "legend": null},
        "strokeDash": {"field": "s", "type": "nominal", "scale": {"domain": ["week 7","week 10","week 14","week 19"], "range": [[1,1.5],[2,1],[4,2],[1,0]]}, "legend": null},
        "strokeWidth": {"field": "s", "type": "nominal", "scale": {"domain": ["week 7","week 10","week 14","week 19"], "range": [1,1,1,1.5]}, "legend": null}}}
     ]
    }
   ]
  },
  {
   "title": {"text": "F", "offset": -2},
   "resolve": {"scale": {"color": "independent", "fill": "independent", "strokeDash": "independent"}},
   "spacing": 3,
   "vconcat": [
    {
     "width": 200, "height": 54,
     "data": {"name": "Fm"},
     "resolve": {"axis": {"x": "independent", "y": "independent"}},
     "layer": [
      {"mark": {"type": "line", "interpolate": "monotone", "strokeWidth": 1},
       "encoding": {
        "x": {"field": "x", "type": "quantitative", "scale": {"domain": [7, 19]}, "axis": {"values": [7,8,9,10,11,12,13,14,15,16,17,18,19], "labels": false, "title": null}},
        "y": {"field": "y", "type": "quantitative", "scale": {"domain": [0, 2], "nice": false}, "axis": {"values": [0,1,2], "labelExpr": "'' + datum.value", "title": ["Tissue mass", "(g)"]}},
        "color": {"field": "m", "type": "nominal", "scale": {"domain": ["Model 1","Model 2"], "range": ["black","#555"]},
          "legend": {"title": null, "orient": "none", "legendX": 53, "legendY": 37, "symbolType": "M-2.8,0H2.8M-2.8,-0.7V0.7M2.8,-0.7V0.7M0.6,0A0.6,0.6,0,1,1,-0.6,0A0.6,0.6,0,1,1,0.6,0Z", "symbolSize": 64, "symbolStrokeWidth": 1, "labelAlign": "right", "labelOffset": -19, "padding": 0, "rowPadding": 0, "encode": {"symbols": {"update": {"fill": {"signal": "datum.value === 'Model 1' ? 'black' : 'white'"}, "stroke": {"value": "black"}, "strokeDash": {"value": [1, 0]}}}}}},
        "strokeDash": {"field": "m", "type": "nominal", "scale": {"domain": ["Model 1","Model 2"], "range": [[1,0],[4,2,1,2]]}, "legend": null}}},
      {"mark": {"type": "errorbar", "ticks": {"size": 4}},
       "encoding": {
        "x": {"field": "x", "type": "quantitative", "scale": {"domain": [7, 19]}, "axis": null},
        "y": {"field": "l", "type": "quantitative", "scale": {"domain": [0, 2], "nice": false}, "axis": null}, "y2": {"field": "h"}, "color": {"field": "m", "type": "nominal", "legend": null}}},
      {"mark": {"type": "point", "shape": "circle", "filled": true, "size": 20, "stroke": "black", "strokeWidth": 0.8, "opacity": 1},
       "encoding": {
        "x": {"field": "x", "type": "quantitative", "scale": {"domain": [7, 19]}, "axis": {"orient": "top", "values": [7,8,9,10,11,12,13,14,15,16,17,18,19], "labels": false, "title": null}},
        "y": {"field": "y", "type": "quantitative", "scale": {"domain": [0, 2], "nice": false}, "axis": {"orient": "right", "values": [0,1,2], "labels": false, "title": null}},
        "fill": {"field": "m", "type": "nominal", "scale": {"domain": ["Model 1","Model 2"], "range": ["black","white"]}, "legend": null}}}
     ]
    },
    {
     "width": 200, "height": 56,
     "data": {"name": "Fs"},
     "resolve": {"axis": {"x": "independent", "y": "independent"}},
     "layer": [
      {"mark": {"type": "line", "interpolate": "monotone", "strokeWidth": 1},
       "encoding": {
        "x": {"field": "x", "type": "quantitative", "scale": {"domain": [7, 19]}, "axis": {"values": [7,8,9,10,11,12,13,14,15,16,17,18,19], "labels": false, "title": null}},
        "y": {"field": "y", "type": "quantitative", "scale": {"domain": [70, 100], "nice": false, "clamp": true}, "axis": {"values": [70,80,90,100], "labelExpr": "'' + datum.value", "title": ["Mean cell size", "(μm)"]}},
        "color": {"field": "m", "type": "nominal", "scale": {"domain": ["Model 1","Model 2"], "range": ["black","#555"]}, "legend": null},
        "strokeDash": {"field": "m", "type": "nominal", "scale": {"domain": ["Model 1","Model 2"], "range": [[1,0],[4,2,1,2]]}, "legend": null}}},
      {"mark": {"type": "errorbar", "ticks": {"size": 4}},
       "encoding": {
        "x": {"field": "x", "type": "quantitative", "scale": {"domain": [7, 19]}, "axis": null},
        "y": {"field": "l", "type": "quantitative", "scale": {"domain": [70, 100], "nice": false, "clamp": true}, "axis": null}, "y2": {"field": "h"}, "color": {"field": "m", "type": "nominal", "legend": null}}},
      {"mark": {"type": "point", "shape": "circle", "filled": true, "size": 20, "stroke": "black", "strokeWidth": 0.8, "opacity": 1},
       "encoding": {
        "x": {"field": "x", "type": "quantitative", "scale": {"domain": [7, 19]}, "axis": {"orient": "top", "values": [7,8,9,10,11,12,13,14,15,16,17,18,19], "labels": false, "title": null}},
        "y": {"field": "y", "type": "quantitative", "scale": {"domain": [70, 100], "nice": false, "clamp": true}, "axis": {"orient": "right", "values": [70,80,90,100], "labels": false, "title": null}},
        "fill": {"field": "m", "type": "nominal", "scale": {"domain": ["Model 1","Model 2"], "range": ["black","white"]}, "legend": null}}}
     ]
    },
    {
     "width": 200, "height": 42,
     "data": {"name": "Fn"},
     "resolve": {"axis": {"x": "independent", "y": "independent"}},
     "layer": [
      {"mark": {"type": "line", "interpolate": "monotone", "strokeWidth": 1},
       "encoding": {
        "x": {"field": "x", "type": "quantitative", "scale": {"domain": [7, 19]}, "axis": {"values": [7,8,9,10,11,12,13,14,15,16,17,18,19], "title": "Time (weeks)", "titlePadding": 2}},
        "y": {"field": "y", "type": "quantitative", "scale": {"domain": [5, 25], "nice": false}, "axis": {"values": [5,10,15,20,25], "labelExpr": "'' + datum.value", "title": ["Total cell number", "(x10⁶)"]}},
        "color": {"field": "m", "type": "nominal", "scale": {"domain": ["Model 1","Model 2"], "range": ["black","#555"]}, "legend": null},
        "strokeDash": {"field": "m", "type": "nominal", "scale": {"domain": ["Model 1","Model 2"], "range": [[1,0],[4,2,1,2]]}, "legend": null}}},
      {"mark": {"type": "errorbar", "ticks": {"size": 4}},
       "encoding": {
        "x": {"field": "x", "type": "quantitative", "scale": {"domain": [7, 19]}, "axis": null},
        "y": {"field": "l", "type": "quantitative", "scale": {"domain": [5, 25], "nice": false}, "axis": null}, "y2": {"field": "h"}, "color": {"field": "m", "type": "nominal", "legend": null}}},
      {"mark": {"type": "point", "shape": "circle", "filled": true, "size": 20, "stroke": "black", "strokeWidth": 0.8, "opacity": 1},
       "encoding": {
        "x": {"field": "x", "type": "quantitative", "scale": {"domain": [7, 19]}, "axis": {"orient": "top", "values": [7,8,9,10,11,12,13,14,15,16,17,18,19], "labels": false, "title": null}},
        "y": {"field": "y", "type": "quantitative", "scale": {"domain": [5, 25], "nice": false}, "axis": {"orient": "right", "values": [5,10,15,20,25], "labels": false, "title": null}},
        "fill": {"field": "m", "type": "nominal", "scale": {"domain": ["Model 1","Model 2"], "range": ["black","white"]}, "legend": null}}}
     ]
    }
   ]
  }
 ]
}
]
}
